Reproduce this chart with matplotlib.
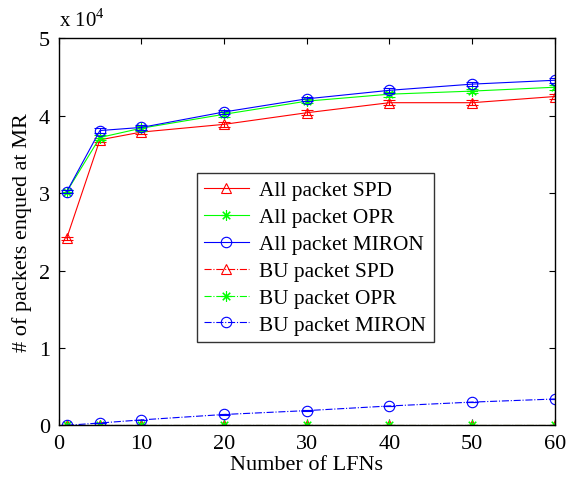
import numpy as np
import matplotlib.pyplot as plt
from matplotlib.ticker import FuncFormatter

# data (packet counts)
lfns = [1, 5, 10, 20, 30, 40, 50, 60]
all_spd = [24200, 36900, 37900, 38900, 40400, 41700, 41700, 42500]
all_opr = [30200, 37200, 38400, 40200, 41900, 42800, 43200, 43700]
all_miron = [30200, 38100, 38500, 40500, 42200, 43300, 44100, 44600]
bu_spd = [0, 0, 0, 0, 0, 0, 0, 0]
bu_opr = [0, 0, 0, 0, 0, 0, 0, 0]
bu_miron = [0, 300, 700, 1400, 1900, 2500, 3000, 3400]
err_all = [200, 300, 300, 300, 300, 300, 300, 300]
err_bu = [50, 50, 50, 50, 50, 50, 50, 50]

plt.rcParams['font.family'] = ['Liberation Serif', 'DejaVu Serif']
plt.rcParams['mathtext.fontset'] = 'custom'
plt.rcParams['mathtext.rm'] = 'Liberation Serif'

fig = plt.figure(figsize=(5.68, 4.85), dpi=100)
ax = fig.add_axes([0.103, 0.121, 0.874, 0.7976])

asterisk = (8, 2, 0)
series = [
    (all_spd, err_all, 'r', '-', '^', 'All packet SPD'),
    (all_opr, err_all, '#00ff00', '-', asterisk, 'All packet OPR'),
    (all_miron, err_all, 'b', '-', 'o', 'All packet MIRON'),
    (bu_spd, err_bu, 'r', '-.', '^', 'BU packet SPD'),
    (bu_opr, err_bu, '#00ff00', '-.', asterisk, 'BU packet OPR'),
    (bu_miron, err_bu, 'b', '-.', 'o', 'BU packet MIRON'),
]

for vals, err, col, ls, mk, lab in series:
    ax.errorbar(lfns, vals, yerr=err, fmt='none', ecolor=col, elinewidth=0.8,
                capsize=4, capthick=0.8)
    ax.plot(lfns, vals, color=col, linestyle=ls, linewidth=0.8, marker=mk,
            markersize=7.5, markerfacecolor='none',
            markeredgecolor=col, markeredgewidth=0.8, label=lab)

ax.set_xlim(0, 60)
ax.set_ylim(0, 50000)
ax.set_xticks([0, 10, 20, 30, 40, 50, 60])
ax.set_yticks([0, 10000, 20000, 30000, 40000, 50000])
ax.yaxis.set_major_formatter(FuncFormatter(lambda v, p: '%g' % (v / 1e4)))
ax.tick_params(direction='in', top=True, right=True, labelsize=16, length=4, pad=6)
for s in ax.spines.values():
    s.set_linewidth(1.0)

ax.set_xlabel('Number of LFNs', fontsize=16, labelpad=2)
ax.set_ylabel('# of packets enqued at MR', fontsize=16, labelpad=5)
fig.text(0.103, 0.935, r'x 10$^4$', fontsize=15, ha='left', va='bottom')

leg = ax.legend(loc='upper left', bbox_to_anchor=(0.278, 0.652), fontsize=15.3,
                frameon=True, fancybox=False, edgecolor='k', handlelength=2.1,
                labelspacing=0.33, borderpad=0.35, handletextpad=0.5,
                borderaxespad=0)
leg.get_frame().set_linewidth(1.0)

fig.savefig('out.png', dpi=100)
